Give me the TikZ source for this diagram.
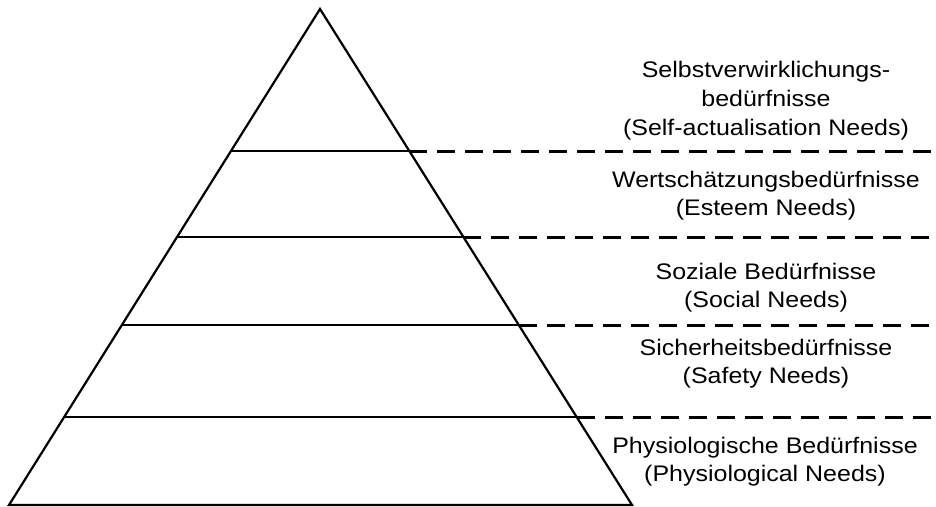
\documentclass[tikz,border=0pt]{standalone}
\usepackage{fontspec}
\setmainfont{Liberation Sans}[FakeStretch=1.11]
\usetikzlibrary{calc}
\tikzset{
  solidline/.style={draw=black, line width=2.2pt, line join=miter},
  dashline/.style={draw=black, line width=3pt, dash pattern=on 18pt off 10pt},
  label/.style={anchor=base, inner sep=0pt, font=\fontsize{22.5}{28}\selectfont, text=black}
}
\begin{document}
\begin{tikzpicture}[x=1pt, y=-1pt]
\useasboundingbox (0,0) rectangle (936,506);
\coordinate (apex) at (320,9);
\coordinate (bl) at (9,505);
\coordinate (br) at (632,505);
\coordinate (edge) at (936,0);
\foreach \i/\t in {1/0.2863, 2/0.4597, 3/0.6371, 4/0.8226} {
  \coordinate (l\i) at ($(apex)!\t!(bl)$);
  \coordinate (r\i) at ($(apex)!\t!(br)$);
  \coordinate (e\i) at (r\i -| edge);
}
\draw[solidline] (apex) -- (bl) -- (br) -- cycle;
\foreach \i in {1,2,3,4} {
  \draw[solidline] (l\i) -- (r\i);
  \draw[dashline] (r\i) -- (e\i);
}
\node[label] (t1a) at (766,77) {Selbstverwirklichungs-};
\node[label] (t1b) at (766,106) {bedürfnisse};
\node[label] (t1c) at (766,135) {(Self-actualisation Needs)};
\node[label] (t2a) at (766,187) {Wertschätzungsbedürfnisse};
\node[label] (t2b) at (766,215) {(Esteem Needs)};
\node[label] (t3a) at (766,279) {Soziale Bedürfnisse};
\node[label] (t3b) at (766,307) {(Social Needs)};
\node[label] (t4a) at (766,355) {Sicherheitsbedürfnisse};
\node[label] (t4b) at (766,383) {(Safety Needs)};
\node[label] (t5a) at (765,453) {Physiologische Bedürfnisse};
\node[label] (t5b) at (765,481) {(Physiological Needs)};
\end{tikzpicture}
\end{document}
